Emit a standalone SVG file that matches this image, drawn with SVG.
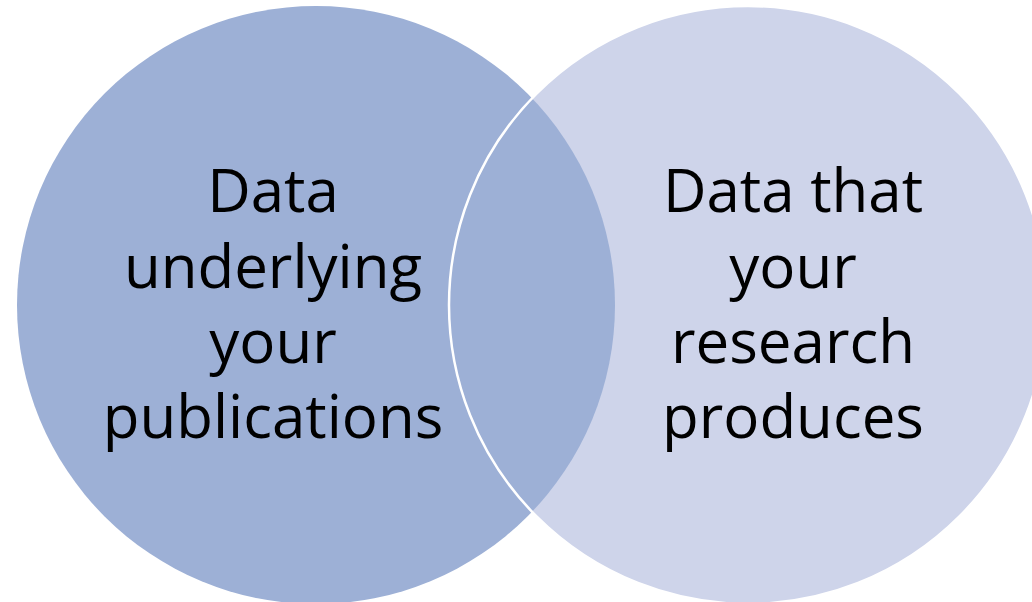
<svg xmlns="http://www.w3.org/2000/svg" width="1032" height="602" viewBox="0 0 1032 602">
<style>
.lbl{font-family:"Open Sans","Liberation Sans",sans-serif;font-size:60px;fill:#000;text-anchor:middle}
</style>
<defs>
<clipPath id="rightClip"><circle cx="748" cy="305" r="299"/></clipPath>
</defs>
<rect width="1032" height="602" fill="#fff"/>
<g id="node-left">
<circle cx="316" cy="305" r="299" fill="#9DB0D6"/>
</g>
<g id="node-right">
<circle cx="748" cy="305" r="299" fill="#CED4EA"/>
<circle cx="316" cy="305" r="299" fill="#9DB0D6" clip-path="url(#rightClip)"/>
<circle cx="748" cy="305" r="299" fill="none" stroke="#fff" stroke-width="2.5"/>
</g>
<g id="connectors"></g>
<g id="labels">
<text class="lbl" x="273" y="212">Data</text>
<text class="lbl" x="273" y="288">underlying</text>
<text class="lbl" x="273" y="363">your</text>
<text class="lbl" x="273" y="438">publications</text>
<text class="lbl" x="793" y="212">Data that</text>
<text class="lbl" x="793" y="288">your</text>
<text class="lbl" x="793" y="363">research</text>
<text class="lbl" x="793" y="438">produces</text>
</g>
</svg>
